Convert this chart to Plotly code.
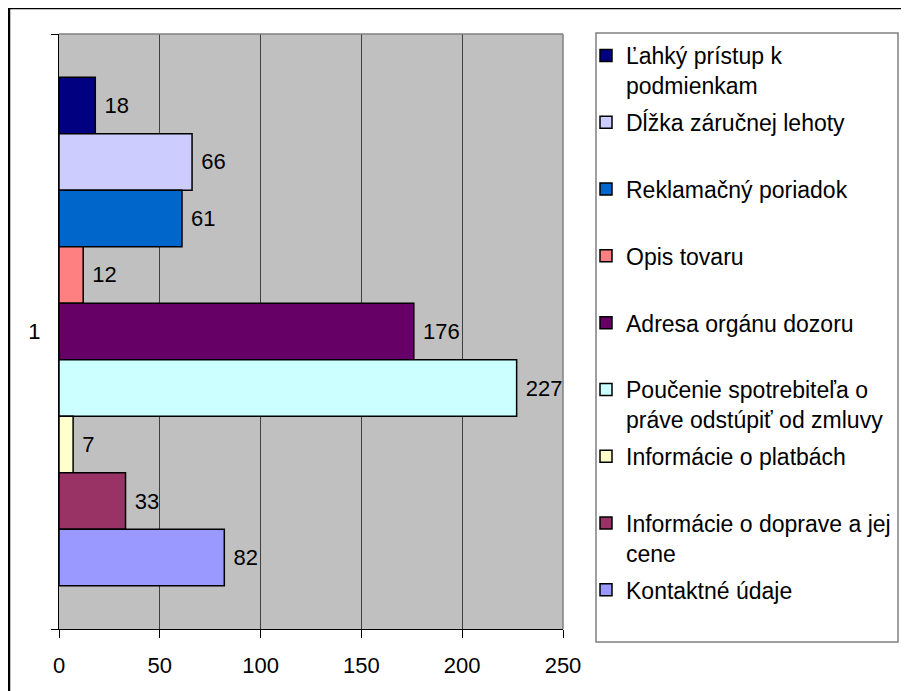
import plotly.graph_objects as go

# Series listed in visual order, top to bottom
series_names = [
    "Ľahký prístup k<br>podmienkam",
    "Dĺžka záručnej lehoty",
    "Reklamačný poriadok",
    "Opis tovaru",
    "Adresa orgánu dozoru",
    "Poučenie spotrebiteľa o<br>práve odstúpiť od zmluvy",
    "Informácie o platbách",
    "Informácie o doprave a jej<br>cene",
    "Kontaktné údaje",
]
series_values = [18, 66, 61, 12, 176, 227, 7, 33, 82]
series_colors = ["#000080", "#CCCCFF", "#0066CC", "#FF8080", "#660066",
                 "#CCFFFF", "#FFFFCC", "#993366", "#9999FF"]
category = ["1"]
x_ticks = [0, 50, 100, 150, 200, 250]

FONT = "Arial, Liberation Sans, sans-serif"

fig = go.Figure()
for name, val, col in zip(series_names, series_values, series_colors):
    legend_name = name if "<br>" in name else name + "<br> "
    fig.add_trace(go.Bar(
        y=category, x=[val], orientation="h", name=legend_name,
        legendgroup=name,
        marker=dict(color=col, line=dict(color="black", width=1.5)),
        text=[val], texttemplate=" %{x}", textposition="outside",
        textfont=dict(size=22, color="black", family=FONT),
        cliponaxis=False, constraintext="none",
    ))

# page has an 8px body margin; positions below are screen pixels
OFF = 8
L, R, T, B = 59 - OFF, 563 - OFF, 34 - OFF, 629 - OFF
W, H = 909, 691
def px(x):
    return (x - OFF - L) / (R - L)
def py(y):
    return (B - (y - OFF)) / (B - T)

fig.update_layout(
    width=W, height=H,
    margin=dict(l=L, r=W - R, t=T, b=H - B),
    paper_bgcolor="white",
    plot_bgcolor="#C0C0C0",
    barmode="group", bargap=0.145, bargroupgap=0,
    font=dict(family=FONT, size=22, color="black"),
    showlegend=True,
    legend=dict(
        x=px(586), y=py(34), xanchor="left", yanchor="top",
        traceorder="grouped", tracegroupgap=4,
        font=dict(size=23, family=FONT, color="black"),
        bgcolor="rgba(0,0,0,0)", borderwidth=0, valign="top",
        maxheight=900,
    ),
    xaxis=dict(
        range=[0, 250], tickvals=x_ticks, showgrid=True,
        gridcolor="#404040", gridwidth=1, zeroline=False,
        showline=True, linecolor="black", linewidth=1,
        ticks="outside", ticklen=8, tickcolor="black",
        tickfont=dict(size=22), ticklabelstandoff=9,
    ),
    yaxis=dict(
        type="category", autorange="reversed",
        showgrid=False, zeroline=False,
        showline=True, linecolor="black", linewidth=1,
        ticks="outside", ticklen=7, tickcolor="black", tickson="boundaries",
        tickfont=dict(size=22), ticklabelstandoff=13,
    ),
    shapes=[
        # plot area top/right border (gray)
        dict(type="line", xref="paper", yref="paper", x0=0, x1=1, y0=1, y1=1,
             line=dict(color="#808080", width=1.5)),
        dict(type="line", xref="paper", yref="paper", x0=1, x1=1, y0=0, y1=1,
             line=dict(color="#808080", width=1.5)),
        # legend box
        dict(type="rect", xref="paper", yref="paper",
             x0=px(596), x1=px(898), y0=py(642), y1=py(33),
             line=dict(color="#808080", width=1.5)),
        # outer chart border
        dict(type="rect", xref="paper", yref="paper",
             x0=px(9), x1=px(930), y0=py(720), y1=py(8),
             line=dict(color="black", width=2.5)),
    ],
)

fig.write_html("out.html")
